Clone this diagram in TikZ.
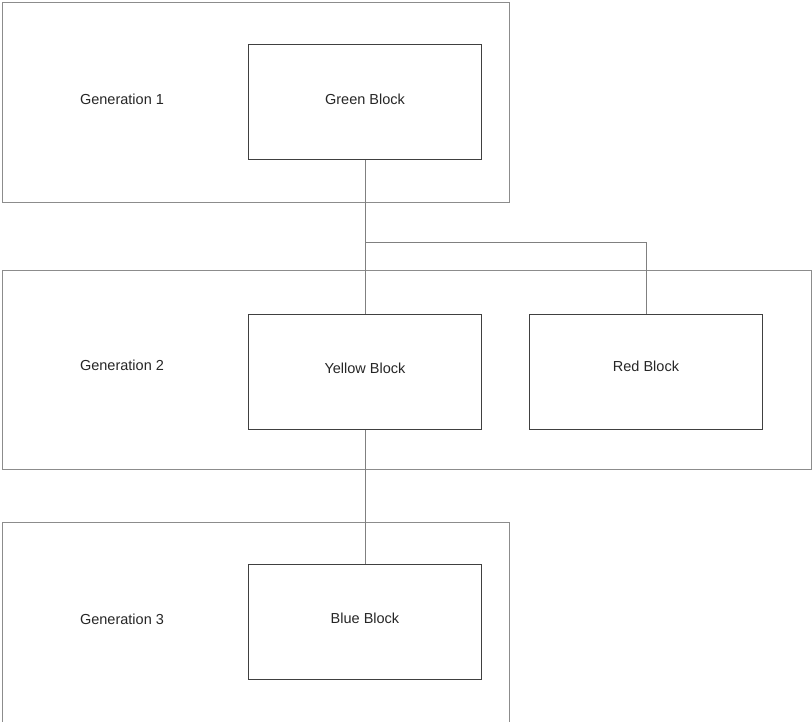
\documentclass[tikz,border=0pt]{standalone}
\usepackage{fontspec}
\setmainfont{Liberation Sans}
\begin{document}
\begin{tikzpicture}[x=1pt,y=-1pt,
  genbox/.style={draw=black!45,line width=1pt,rectangle,inner sep=0pt,anchor=north west},
  block/.style={draw=black!75,line width=1pt,rectangle,inner sep=0pt,anchor=north west,minimum width=233pt,minimum height=115pt},
  lbl/.style={font=\fontsize{14.5}{16}\selectfont,text=black!85,inner sep=0pt},
  conn/.style={draw=black!50,line width=1pt}]
\useasboundingbox (0,0) rectangle (812,721);
\clip (0,0) rectangle (812,721);
% generation frames
\node[genbox,minimum width=507pt,minimum height=200pt] (gen1) at (2,2) {};
\node[genbox,minimum width=809pt,minimum height=199pt] (gen2) at (2,270) {};
\node[genbox,minimum width=507pt,minimum height=230pt] (gen3) at (2,522) {};
% blocks
\node[block] (green) at (248,44) {};
\node[block] (yellow) at (248,314) {};
\node[block] (red) at (529,314) {};
\node[block] (blue) at (248,564) {};
% labels
\node[lbl] (g1) at (122,99) {Generation 1};
\node[lbl] (g2) at (122,365) {Generation 2};
\node[lbl] (g3) at (122,619) {Generation 3};
\node[lbl] (tg) at (365,99) {Green Block};
\node[lbl] (ty) at (365,368) {Yellow Block};
\node[lbl] (tr) at (646,366) {Red Block};
\node[lbl] (tb) at (365,618) {Blue Block};
% connectors
\coordinate (split) at (365,242);
\draw[conn] (green.south) -- (yellow.north);
\draw[conn] (split) -| (red.north);
\draw[conn] (yellow.south) -- (blue.north);
\end{tikzpicture}
\end{document}
